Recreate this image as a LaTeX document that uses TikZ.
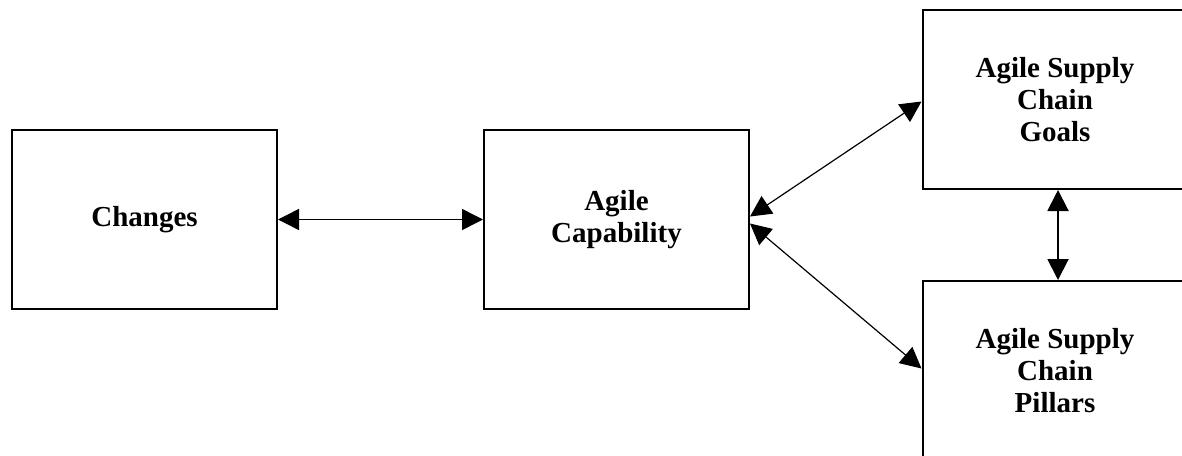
\documentclass[tikz,border=0pt]{standalone}
\usepackage{fontspec}
\setmainfont{Liberation Serif}
\usepackage{tikz}
\usetikzlibrary{positioning, arrows.meta}

\begin{document}
\begin{tikzpicture}[x=1pt, y=-1pt,
    block/.style={draw, line width=2pt, minimum width=265pt, minimum height=179pt,
      align=center, font=\fontsize{29}{32}\selectfont\bfseries},
    both/.style={{Triangle[length=21pt,width=21pt]}-{Triangle[length=21pt,width=21pt]}}]
  \useasboundingbox (0,0) rectangle (1182,455);
  % Bloques de la izquierda
  \node[block] (changes) at (144.5,219.5) {Changes};
  \node[block, right=205pt of changes] (capability) {Agile\\Capability};
  % Bloques de la derecha
  \node[block] (goals) at (1055,99.5) {Agile Supply\\Chain\\Goals};
  \node[block, below=90pt of goals] (pillars) {Agile Supply\\Chain\\Pillars};

  % Conexiones
  \draw[both, line width=1.5pt] (changes) -- (capability);
  \draw[both, line width=1.2pt] ([yshift=3pt]capability.east) -- ([yshift=-2pt]goals.west);
  \draw[both, line width=1.2pt] ([yshift=-4pt]capability.east) -- ([yshift=2pt]pillars.west);
  \draw[both, line width=2pt] ([xshift=3pt]goals.south) -- ([xshift=3pt]pillars.north);
\end{tikzpicture}
\end{document}
